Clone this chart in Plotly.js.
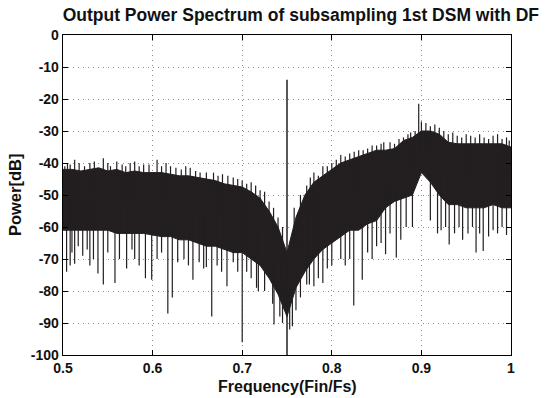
<!DOCTYPE html>
<html><head><meta charset="utf-8">
<script src="https://cdn.plot.ly/plotly-3.0.1.min.js"></script>
<style>html,body{margin:0;padding:0;background:#fff}#plot{width:547px;height:398px}</style>
</head><body><div id="plot"></div>
<script>
// Envelope of the noise floor read at 0.01 steps
const gridFreq = [0.50,0.51,0.52,0.53,0.54,0.55,0.56,0.57,0.58,0.59,0.60,0.61,0.62,0.63,0.64,0.65,0.66,0.67,0.68,0.69,0.70,0.71,0.72,0.73,0.74,0.75,0.76,0.77,0.78,0.79,0.80,0.81,0.82,0.83,0.84,0.85,0.86,0.87,0.88,0.89,0.90,0.91,0.92,0.93,0.94,0.95,0.96,0.97,0.98,0.99,1.00];
const upperDb = [-42,-42,-42.5,-42,-41.5,-42.5,-42,-43,-42.5,-43,-43,-43,-43.5,-44,-44,-44.5,-45,-45.5,-46.5,-47,-47.5,-49,-51,-55,-60,-68,-57,-50,-46,-44,-42,-40,-39,-38,-37,-36,-36,-35.5,-33,-32,-30,-30,-31,-33.5,-34,-34,-34,-34,-34,-34,-35];
const lowerDb = [-61,-61,-61,-61,-61,-61,-62,-62,-62,-62,-62.5,-63,-63,-64,-64,-65,-66,-66,-67,-68,-68,-70,-72,-76,-81,-88,-79,-74,-70,-67,-65,-63,-61,-61,-59,-58,-54,-52,-51,-50,-43,-46,-50,-53,-53,-54,-54,-54,-53,-54,-54];
// Upward peaks
const peakFreq = [0.502,0.505,0.508,0.513,0.518,0.524,0.53,0.535,0.545,0.55,0.553,0.56,0.566,0.57,0.575,0.58,0.585,0.59,0.596,0.605,0.61,0.615,0.62,0.626,0.632,0.637,0.642,0.648,0.653,0.66,0.668,0.673,0.678,0.684,0.69,0.695,0.70,0.705,0.71,0.715,0.72,0.725,0.73,0.735,0.74,0.745,0.758,0.762,0.765,0.772,0.776,0.78,0.785,0.79,0.795,0.80,0.805,0.81,0.815,0.82,0.825,0.83,0.835,0.84,0.845,0.85,0.855,0.858,0.865,0.87,0.875,0.88,0.885,0.888,0.893,0.897,0.90,0.905,0.91,0.915,0.92,0.925,0.93,0.935,0.94,0.945,0.95,0.955,0.96,0.965,0.97,0.975,0.98,0.985,0.99,0.995,0.998];
const peakDb = [-41,-40,-40.5,-39,-40,-41,-40,-39.5,-38.5,-40,-41,-39.5,-40.5,-41,-40,-39.5,-41,-40.5,-40.5,-39,-41,-40,-41,-41.5,-42,-41,-41.5,-42.5,-43,-43,-43,-44,-43.5,-44,-44.5,-45,-45.5,-46.5,-46,-47,-48.5,-49,-52,-54,-57,-60,-54,-56,-50,-47,-44.5,-43,-44,-41,-41,-40,-39,-37.5,-38,-37,-36.5,-36,-36,-35.5,-34.5,-34.5,-34,-33.5,-33.5,-34,-32.5,-32,-31,-30.5,-30,-21.5,-27,-27.5,-28.5,-28,-29,-30,-31,-30.5,-31.5,-32,-31,-31.5,-32,-31,-32,-32.5,-31.5,-31,-32.5,-32,-33];
// Downward dips
const dipFreq = [0.504,0.508,0.51,0.513,0.517,0.522,0.527,0.53,0.534,0.539,0.545,0.55,0.558,0.563,0.571,0.577,0.58,0.585,0.592,0.599,0.605,0.61,0.617,0.622,0.628,0.635,0.64,0.645,0.652,0.657,0.66,0.666,0.672,0.677,0.683,0.69,0.695,0.70,0.705,0.71,0.716,0.718,0.725,0.734,0.7355,0.742,0.745,0.748,0.753,0.756,0.76,0.765,0.772,0.775,0.78,0.785,0.79,0.795,0.80,0.81,0.815,0.82,0.8245,0.834,0.84,0.845,0.85,0.855,0.86,0.865,0.872,0.877,0.883,0.89,0.91,0.918,0.922,0.927,0.931,0.937,0.942,0.946,0.952,0.957,0.961,0.965,0.969,0.975,0.98,0.985,0.99,0.995];
const dipDb = [-74,-72,-68,-71.5,-66,-69,-67,-72,-70,-74.5,-78,-68,-77.5,-70,-73,-67,-70,-72,-76,-76.5,-70,-68,-87,-82,-71,-70,-72,-76.5,-71,-73,-72.5,-88,-72,-74,-78.5,-71,-74,-96,-74,-76,-79,-80,-80,-84,-90.5,-88,-90,-86,-92,-91,-86,-82,-78,-78,-78.5,-76,-77.5,-73,-72,-70,-72,-70,-84.5,-76.5,-68,-70,-66,-65,-68.5,-62,-69.5,-64,-60,-60,-58,-62,-61,-60,-65.5,-62,-60,-64,-62,-60,-68,-62,-67.5,-63,-61,-62,-60,-62.5];
// Carrier tone
const toneFreq = [0.75];
const toneDb = [-14];

const xTicks = [0.5,0.6,0.7,0.8,0.9,1];
const xTickText = ['0.5','0.6','0.7','0.8','0.9','1'];
const yTicks = [0,-10,-20,-30,-40,-50,-60,-70,-80,-90,-100];

const ink = '#231f20';
function nearestIdx(f){ return Math.min(gridFreq.length-1, Math.max(0, Math.round((f-gridFreq[0])/0.01))); }

const bandX = gridFreq.concat(gridFreq.slice().reverse());
const bandY = upperDb.concat(lowerDb.slice().reverse());

const segX = [], segY = [];
peakFreq.forEach((f,i)=>{ const k=nearestIdx(f); segX.push(f,f,null); segY.push((upperDb[k]+lowerDb[k])/2, peakDb[i], null); });
dipFreq.forEach((f,i)=>{ const k=nearestIdx(f); segX.push(f,f,null); segY.push((upperDb[k]+lowerDb[k])/2, dipDb[i], null); });
const toneX = [], toneY = [];
toneFreq.forEach((f,i)=>{ toneX.push(f,f,null); toneY.push(-101, toneDb[i], null); });

const data = [
  {type:'scatter', mode:'lines', x:bandX, y:bandY, fill:'toself', fillcolor:ink, line:{color:ink, width:1}, hoverinfo:'skip'},
  {type:'scatter', mode:'lines', x:segX, y:segY, line:{color:ink, width:1.2}, connectgaps:false, hoverinfo:'skip'},
  {type:'scatter', mode:'lines', x:toneX, y:toneY, line:{color:ink, width:1.5}, connectgaps:false, hoverinfo:'skip'}
];

const font = {family:'"Liberation Sans", Arial, sans-serif', color:'#111'};
const axisCommon = {ticks:'inside', ticklen:5, tickcolor:'#000', showline:true, mirror:'ticks', linecolor:'#000', linewidth:1.3,
  showgrid:true, gridcolor:'#8c8c8c', griddash:'1px,4px', gridwidth:1, zeroline:false};
const layout = {
  width:547, height:398,
  margin:{l:63, r:36, t:35, b:43, pad:0},
  paper_bgcolor:'#fff', plot_bgcolor:'#fff',
  showlegend:false,
  title:{text:'<b>Output Power Spectrum of subsampling 1st DSM with DF</b>', x:0.55, xanchor:'center', y:0.978, yanchor:'top', font:Object.assign({size:17.5}, font)},
  xaxis:Object.assign({range:[0.5,1], tickvals:xTicks, ticktext:xTickText.map(t=>'<b>'+t+'</b>'),
         tickfont:Object.assign({size:14}, font)}, axisCommon),
  yaxis:Object.assign({range:[-100,0], tickvals:yTicks, ticktext:yTicks.map(t=>'<b>'+t+'</b>'),
         tickfont:Object.assign({size:14}, font)}, axisCommon),
  annotations:[
    {text:'<b>Frequency(Fin/Fs)</b>', xref:'paper', yref:'paper', x:0.5, y:-0.098, xanchor:'center', yanchor:'middle', showarrow:false, font:Object.assign({size:16}, font)},
    {text:'<b>Power[dB]</b>', xref:'paper', yref:'paper', x:-0.107, y:0.5, xanchor:'center', yanchor:'middle', textangle:-90, showarrow:false, font:Object.assign({size:16.5}, font)}
  ]
};

Plotly.newPlot('plot', data, layout, {staticPlot:true, displayModeBar:false});
</script></body></html>
